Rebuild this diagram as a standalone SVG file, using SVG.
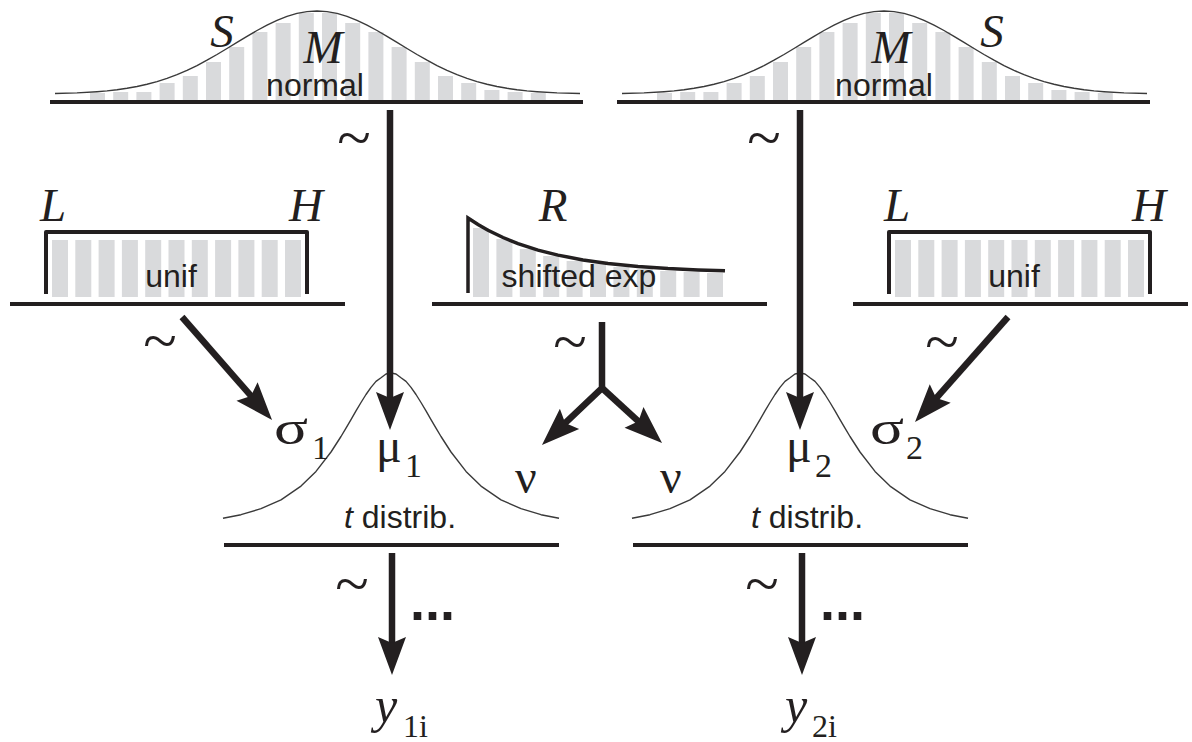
<svg xmlns="http://www.w3.org/2000/svg" width="1192" height="742" viewBox="0 0 1192 742">
<style>
.bar{fill:#d9dadc}
.curve{fill:none;stroke:#3a3a3a;stroke-width:1.4;stroke-linejoin:round}
.expc{fill:none;stroke:#231f20;stroke-width:3.5;stroke-linejoin:miter}
.base{stroke:#231f20;stroke-width:4;fill:none}
.frame{stroke:#231f20;stroke-width:4;fill:none;stroke-linejoin:round}
.sans{font-family:"Liberation Sans",Arial,sans-serif;font-size:32px;fill:#231f20;text-anchor:middle}
.ital{font-family:"Liberation Serif","Times New Roman",serif;font-style:italic;font-size:47px;fill:#231f20;text-anchor:middle}
.greek{font-family:"Liberation Serif","Times New Roman",serif;font-size:48px;fill:#231f20}
.sub{font-family:"Liberation Serif","Times New Roman",serif;font-size:34px;fill:#231f20}
.tilde{font-family:"Liberation Serif","Times New Roman",serif;font-size:62px;fill:#231f20;text-anchor:middle}
.dots{font-family:"Liberation Sans",Arial,sans-serif;font-weight:bold;font-size:54px;fill:#231f20}
.arrow{stroke:#231f20;stroke-width:6.5;fill:none;stroke-linejoin:miter;marker-end:url(#head)}
</style>
<defs>
<marker id="head" markerUnits="userSpaceOnUse" orient="auto" overflow="visible" refX="0" refY="0" markerWidth="60" markerHeight="60">
<path d="M25,0 L-13,-14 L-7,0 L-13,14 Z" fill="#231f20"/>
</marker>
<g id="normShape">
<rect class="bar" x="-227" y="93" width="15" height="7"/>
<rect class="bar" x="-203.8" y="92" width="15" height="8"/>
<rect class="bar" x="-180.6" y="92" width="15" height="8"/>
<rect class="bar" x="-157.4" y="83" width="15" height="17"/>
<rect class="bar" x="-134.2" y="76" width="15" height="24"/>
<rect class="bar" x="-111" y="62" width="15" height="38"/>
<rect class="bar" x="-87.8" y="47" width="15" height="53"/>
<rect class="bar" x="-64.6" y="32" width="15" height="68"/>
<rect class="bar" x="-41.4" y="23" width="15" height="77"/>
<rect class="bar" x="-18.2" y="13" width="15" height="87"/>
<rect class="bar" x="5" y="13" width="15" height="87"/>
<rect class="bar" x="28.2" y="23" width="15" height="77"/>
<rect class="bar" x="51.4" y="32" width="15" height="68"/>
<rect class="bar" x="74.6" y="47" width="15" height="53"/>
<rect class="bar" x="97.8" y="62" width="15" height="38"/>
<rect class="bar" x="121" y="76" width="15" height="24"/>
<rect class="bar" x="144.2" y="83" width="15" height="17"/>
<rect class="bar" x="167.4" y="90" width="15" height="10"/>
<rect class="bar" x="190.6" y="92" width="15" height="8"/>
<rect class="bar" x="213.8" y="93" width="15" height="7"/>
<polyline class="curve" points="-262,93.5 -240,92.9 -220,91.7 -210,90.9 -200,89.8 -190,88.3 -180,86.5 -170,84.3 -160,81.6 -150,78.4 -140,74.7 -130,70.4 -120,65.6 -110,60.2 -100,54.5 -90,48.5 -80,42.4 -70,36.3 -60,30.5 -50,25.1 -40,20.3 -30,16.4 -20,13.4 -10,11.6 0,11 10,11.6 20,13.4 30,16.4 40,20.3 50,25.1 60,30.5 70,36.3 80,42.4 90,48.5 100,54.5 110,60.2 120,65.6 130,70.4 140,74.7 150,78.4 160,81.6 170,84.3 180,86.5 190,88.3 200,89.8 210,90.9 220,91.7 240,92.9 263,93.5"/>
<line class="base" x1="-267" y1="102" x2="266" y2="102"/>
</g>
<g id="tShape">
<polyline class="curve" points="-168,518.3 -150,514.7 -130,508.7 -110,499.8 -90,486.1 -75,471.4 -60,452 -50,436.5 -45,428.2 -40,419.6 -35,410.9 -30,402.5 -25,394.5 -20,387.4 -15,381.4 -10,377.8 -5,374 0,373 5,374 10,377.8 15,381.4 20,387.4 25,394.5 30,402.5 35,410.9 40,419.6 45,428.2 50,436.5 60,452 75,471.4 90,486.1 110,499.8 130,508.7 150,514.7 168,518.3"/>
<line class="base" x1="-167" y1="545" x2="168" y2="545"/>
</g>
<g id="unifShape">
<rect class="bar" x="52" y="240" width="16" height="57"/>
<rect class="bar" x="75.3" y="240" width="16" height="57"/>
<rect class="bar" x="98.6" y="240" width="16" height="57"/>
<rect class="bar" x="121.9" y="240" width="16" height="57"/>
<rect class="bar" x="145.2" y="240" width="16" height="57"/>
<rect class="bar" x="168.5" y="240" width="16" height="57"/>
<rect class="bar" x="191.8" y="240" width="16" height="57"/>
<rect class="bar" x="215.1" y="240" width="16" height="57"/>
<rect class="bar" x="238.4" y="240" width="16" height="57"/>
<rect class="bar" x="261.7" y="240" width="16" height="57"/>
<rect class="bar" x="285" y="240" width="16" height="57"/>
<path class="frame" d="M46,294 V232 H307 V294"/>
<line class="base" x1="10" y1="304" x2="345" y2="304"/>
<text class="sans" x="171" y="287">unif</text>
</g>
</defs>

<g id="normal1">
<use href="#normShape" transform="translate(317,0)"/>
<text class="ital" x="222" y="47">S</text>
<text class="ital" x="323" y="63">M</text>
<text class="sans" x="315" y="96">normal</text>
</g>

<g id="normal2">
<use href="#normShape" transform="translate(884,0)"/>
<text class="ital" x="891" y="63">M</text>
<text class="ital" x="992" y="47">S</text>
<text class="sans" x="884" y="96">normal</text>
</g>

<g id="unif1">
<use href="#unifShape"/>
<text class="ital" x="53" y="221">L</text>
<text class="ital" x="306" y="221">H</text>
</g>

<g id="unif2">
<use href="#unifShape" transform="translate(843,0)"/>
<text class="ital" x="897" y="221">L</text>
<text class="ital" x="1149" y="221">H</text>
</g>

<g id="shiftedexp">
<rect class="bar" x="473" y="228" width="16" height="69"/>
<rect class="bar" x="496.4" y="239" width="16" height="58"/>
<rect class="bar" x="519.8" y="249" width="16" height="48"/>
<rect class="bar" x="543.2" y="256" width="16" height="41"/>
<rect class="bar" x="566.6" y="261" width="16" height="36"/>
<rect class="bar" x="590" y="264" width="16" height="33"/>
<rect class="bar" x="613.4" y="267" width="16" height="30"/>
<rect class="bar" x="636.8" y="269" width="16" height="28"/>
<rect class="bar" x="660.2" y="271" width="16" height="26"/>
<rect class="bar" x="683.6" y="272" width="16" height="25"/>
<rect class="bar" x="707" y="273" width="16" height="24"/>
<path class="expc" d="M468,293 L468,218 L478,224.5 L488,230.2 L503,237.5 L518,243.6 L538,250.1 L558,255.1 L583,259.9 L608,263.4 L638,266.4 L668,268.5 L698,269.9 L725,270.8"/>
<line class="base" x1="432" y1="304" x2="767" y2="304"/>
<text class="sans" x="579" y="287">shifted exp</text>
<text class="ital" x="553" y="221">R</text>
</g>

<g id="tdist1">
<use href="#tShape" transform="translate(391,0)"/>
<text class="sans" x="400" y="528"><tspan font-style="italic">t</tspan> distrib.</text>
<text class="greek" x="274" y="444" textLength="34" lengthAdjust="spacingAndGlyphs">σ</text>
<text class="sub" x="312" y="459">1</text>
<text class="greek" x="376" y="462">μ</text>
<text class="sub" x="405" y="477">1</text>
<text class="greek" x="515" y="493">ν</text>
</g>

<g id="tdist2">
<use href="#tShape" transform="translate(800,0)"/>
<text class="sans" x="807" y="528"><tspan font-style="italic">t</tspan> distrib.</text>
<text class="greek" x="660" y="493">ν</text>
<text class="greek" x="786" y="462">μ</text>
<text class="sub" x="815" y="477">2</text>
<text class="greek" x="870" y="444" textLength="34" lengthAdjust="spacingAndGlyphs">σ</text>
<text class="sub" x="906" y="459">2</text>
</g>

<g id="y1">
<text class="ital" style="text-anchor:start;font-size:50px" x="375" y="722">y</text>
<text class="sub" style="font-size:32px" x="403" y="737">1i</text>
</g>

<g id="y2">
<text class="ital" style="text-anchor:start;font-size:50px" x="785" y="722">y</text>
<text class="sub" style="font-size:32px" x="812" y="737">2i</text>
</g>

<g id="connectors">
<path class="arrow" d="M390,110 V405"/>
<path class="arrow" d="M800,110 V405"/>
<path class="arrow" d="M182,317 L255.6,401.2"/>
<path class="arrow" d="M1008,317 L931.6,403.3"/>
<path class="arrow" d="M602,322 V388 L560.1,427.8"/>
<path class="arrow" d="M602,388 L643.6,426.1"/>
<path class="arrow" d="M392,553 V650"/>
<path class="arrow" d="M802,553 V650"/>
<text class="tilde" x="354" y="158">~</text>
<text class="tilde" x="764" y="158">~</text>
<text class="tilde" x="160" y="361">~</text>
<text class="tilde" x="570" y="362">~</text>
<text class="tilde" x="942" y="362">~</text>
<text class="tilde" x="352" y="604">~</text>
<text class="tilde" x="762" y="604">~</text>
<text class="dots" x="410" y="620">...</text>
<text class="dots" x="820" y="620">...</text>
</g>
</svg>
